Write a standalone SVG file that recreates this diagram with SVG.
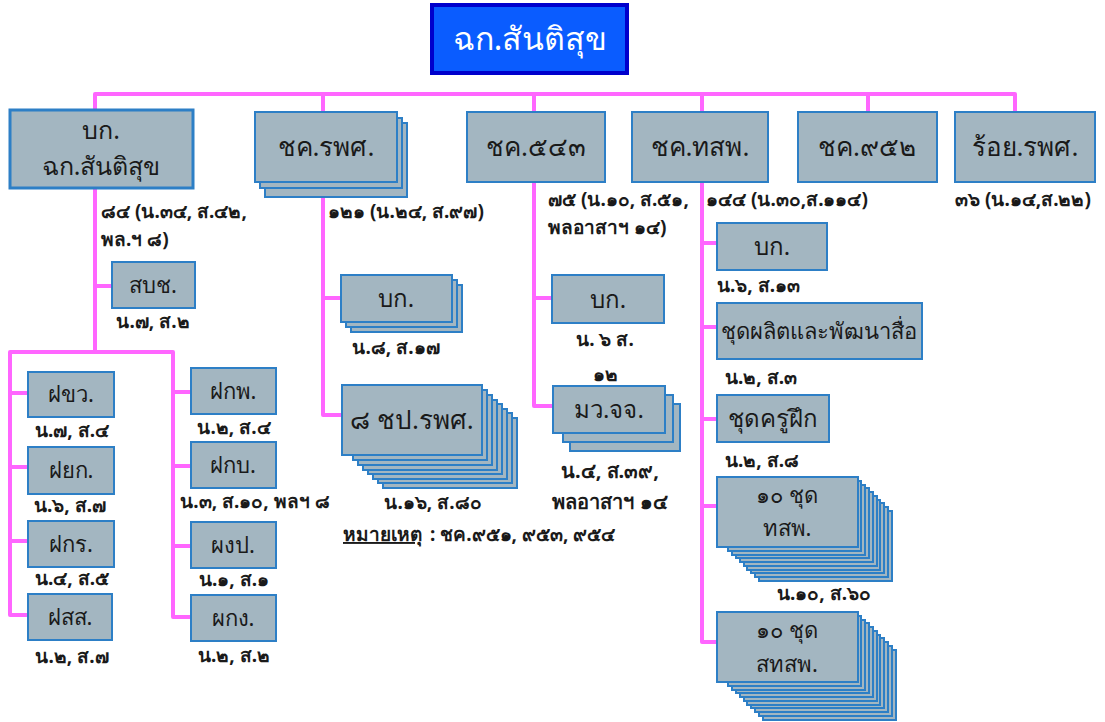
<svg xmlns="http://www.w3.org/2000/svg" width="1105" height="722" viewBox="0 0 1105 722">
<style>
.box{fill:#a3b6c1;stroke:#2d7fc6;stroke-width:2}
.conn{stroke:#ff66ff;stroke-width:4;fill:none;stroke-linejoin:round;stroke-linecap:square}
text{font-family:"Noto Sans","DejaVu Sans",sans-serif;fill:#1a1a1a}
.t1{font-size:26px;text-anchor:middle}
.t2{font-size:22px;text-anchor:middle}
.n{font-size:19px;font-weight:bold}
.nc{font-size:19px;font-weight:bold;text-anchor:middle}
</style>
<rect width="1105" height="722" fill="#ffffff"/>
<g id="connectors">
<path class="conn" d="M95 352 V94 H1015 V112"/>
<path class="conn" d="M323 94 V415 H341 M323 298 H341"/>
<path class="conn" d="M534 94 V406 H553 M534 298 H552"/>
<path class="conn" d="M702 94 V642 H717 M702 243 H717 M702 327 H717 M702 419 H717 M702 506 H717"/>
<path class="conn" d="M868 94 V112"/>
<path class="conn" d="M95 286 H112"/>
<path class="conn" d="M28 615 H10 V352 H173 V617 H191 M10 393 H28 M10 467 H28 M10 541 H28 M173 392 H191 M173 466 H191 M173 546 H191"/>
</g>
<g id="n-top">
<rect x="432" y="5" width="195" height="68" fill="#0a5cff" stroke="#0000cc" stroke-width="4"/>
<text x="530" y="50" style="font-size:32px;text-anchor:middle;fill:#ffffff">ฉก.สันติสุข</text>
</g>
<g id="n-hq">
<rect class="box" x="10" y="110" width="183" height="78" style="stroke-width:3"/>
<text class="t1" x="101" y="139" style="font-size:25px">บก.</text>
<text class="t1" x="101" y="175" style="font-size:25px">ฉก.สันติสุข</text>
<text class="n" x="101" y="218">๘๔ (น.๓๔, ส.๔๒,</text>
<text class="n" x="101" y="246">พล.ฯ ๘)</text>
</g>
<g id="n-rps">
<rect class="box" x="265" y="123" width="142" height="74"/>
<rect class="box" x="260" y="118" width="142" height="70"/>
<rect class="box" x="255" y="112" width="142" height="70"/>
<text class="t1" x="326" y="156">ชค.รพศ.</text>
<text class="n" x="328" y="218">๑๒๑ (น.๒๔, ส.๙๗)</text>
</g>
<g id="n-543">
<rect class="box" x="467" y="112" width="138" height="70"/>
<text class="t1" x="536" y="156">ชค.๕๔๓</text>
<text class="n" x="548" y="206">๗๕ (น.๑๐, ส.๕๑,</text>
<text class="n" x="548" y="234">พลอาสาฯ ๑๔)</text>
</g>
<g id="n-tsp">
<rect class="box" x="632" y="112" width="136" height="70"/>
<text class="t1" x="700" y="156">ชค.ทสพ.</text>
<text class="n" x="706" y="206">๑๔๔ (น.๓๐,ส.๑๑๔)</text>
</g>
<g id="n-952">
<rect class="box" x="798" y="112" width="139" height="70"/>
<text class="t1" x="867" y="156">ชค.๙๕๒</text>
</g>
<g id="n-roi">
<rect class="box" x="955" y="112" width="140" height="70"/>
<text class="t1" x="1025" y="156">ร้อย.รพศ.</text>
<text class="n" x="955" y="206">๓๖ (น.๑๔,ส.๒๒)</text>
</g>
<g id="n-sbc">
<rect class="box" x="112" y="262" width="83" height="46"/>
<text class="t2" x="153" y="293">สบช.</text>
<text class="nc" x="153" y="328">น.๗, ส.๒</text>
</g>
<g id="n-fkw">
<rect class="box" x="28" y="372" width="86" height="45"/>
<text class="t2" x="71" y="402">ฝขว.</text>
<text class="nc" x="72" y="437">น.๗, ส.๔</text>
</g>
<g id="n-fyk">
<rect class="box" x="28" y="447" width="86" height="47"/>
<text class="t2" x="71" y="478">ฝยก.</text>
<text class="nc" x="70" y="512">น.๖, ส.๗</text>
</g>
<g id="n-fkr">
<rect class="box" x="28" y="521" width="86" height="46"/>
<text class="t2" x="71" y="552">ฝกร.</text>
<text class="nc" x="72" y="585">น.๔, ส.๕</text>
</g>
<g id="n-fss">
<rect class="box" x="28" y="594" width="84" height="46"/>
<text class="t2" x="70" y="625">ฝสส.</text>
<text class="nc" x="72" y="663">น.๒, ส.๗</text>
</g>
<g id="n-fkp">
<rect class="box" x="191" y="368" width="85" height="46"/>
<text class="t2" x="233" y="399">ฝกพ.</text>
<text class="nc" x="234" y="434">น.๒, ส.๔</text>
</g>
<g id="n-fkb">
<rect class="box" x="191" y="442" width="85" height="46"/>
<text class="t2" x="233" y="473">ฝกบ.</text>
<text class="nc" x="255" y="508">น.๓, ส.๑๐, พลฯ ๘</text>
</g>
<g id="n-pgp">
<rect class="box" x="191" y="522" width="85" height="46"/>
<text class="t2" x="233" y="553">ผงป.</text>
<text class="nc" x="234" y="586">น.๑, ส.๑</text>
</g>
<g id="n-pkg">
<rect class="box" x="191" y="595" width="85" height="46"/>
<text class="t2" x="233" y="626">ผกง.</text>
<text class="nc" x="234" y="662">น.๒, ส.๒</text>
</g>
<g id="n-rps-bk">
<rect class="box" x="351" y="285" width="111" height="47"/>
<rect class="box" x="346" y="280" width="111" height="47"/>
<rect class="box" x="341" y="275" width="111" height="47"/>
<text class="t2" x="396" y="307" style="font-size:24px">บก.</text>
<text class="nc" x="396" y="354">น.๘, ส.๑๗</text>
</g>
<g id="n-cp">
<rect class="box" x="383" y="418" width="134" height="70"/>
<rect class="box" x="378" y="413" width="134" height="70"/>
<rect class="box" x="373" y="409" width="134" height="70"/>
<rect class="box" x="368" y="404" width="134" height="70"/>
<rect class="box" x="363" y="400" width="134" height="70"/>
<rect class="box" x="358" y="395" width="134" height="70"/>
<rect class="box" x="353" y="390" width="134" height="70"/>
<rect class="box" x="342" y="385" width="140" height="70"/>
<text class="t1" x="412" y="429">๘ ชป.รพศ.</text>
<text class="nc" x="433" y="509">น.๑๖, ส.๘๐</text>
</g>
<g id="n-543-bk">
<rect class="box" x="552" y="275" width="112" height="48"/>
<text class="t2" x="608" y="308" style="font-size:24px">บก.</text>
<text class="nc" x="605" y="346">น. ๖ ส.</text>
<text class="nc" x="605" y="381">๑๒</text>
</g>
<g id="n-mwjj">
<rect class="box" x="570" y="404" width="110" height="47"/>
<rect class="box" x="563" y="395" width="110" height="47"/>
<rect class="box" x="553" y="386" width="112" height="47"/>
<text class="t2" x="609" y="418" style="font-size:24px">มว.จจ.</text>
<text class="nc" x="610" y="478" style="font-size:20px">น.๔, ส.๓๙,</text>
<text class="nc" x="610" y="509" style="font-size:20px">พลอาสาฯ ๑๔</text>
</g>
<g id="n-tsp-bk">
<rect class="box" x="717" y="223" width="110" height="47"/>
<text class="t2" x="772" y="255" style="font-size:24px">บก.</text>
<text class="n" x="717" y="292">น.๖, ส.๑๓</text>
</g>
<g id="n-media">
<rect class="box" x="717" y="303" width="205" height="56"/>
<text class="t2" x="819" y="339">ชุดผลิตและพัฒนาสื่อ</text>
<text class="n" x="725" y="384">น.๒, ส.๓</text>
</g>
<g id="n-trainer">
<rect class="box" x="717" y="395" width="112" height="47"/>
<text class="t2" x="773" y="427" style="font-size:24px">ชุดครูฝึก</text>
<text class="n" x="725" y="467">น.๒, ส.๘</text>
</g>
<g id="n-10tsp">
<rect class="box" x="759" y="511" width="133" height="70"/>
<rect class="box" x="755" y="507" width="133" height="70"/>
<rect class="box" x="751" y="503" width="133" height="70"/>
<rect class="box" x="747" y="500" width="133" height="70"/>
<rect class="box" x="744" y="496" width="133" height="70"/>
<rect class="box" x="740" y="492" width="133" height="70"/>
<rect class="box" x="736" y="488" width="133" height="70"/>
<rect class="box" x="732" y="485" width="133" height="70"/>
<rect class="box" x="728" y="481" width="133" height="70"/>
<rect class="box" x="717" y="477" width="141" height="70"/>
<text class="t2" x="787" y="503">๑๐ ชุด</text>
<text class="t2" x="787" y="536">ทสพ.</text>
<text class="nc" x="824" y="600">น.๑๐, ส.๖๐</text>
</g>
<g id="n-10stsp">
<rect class="box" x="763" y="650" width="133" height="70"/>
<rect class="box" x="759" y="646" width="133" height="70"/>
<rect class="box" x="755" y="642" width="133" height="70"/>
<rect class="box" x="751" y="638" width="133" height="70"/>
<rect class="box" x="747" y="635" width="133" height="70"/>
<rect class="box" x="744" y="631" width="133" height="70"/>
<rect class="box" x="740" y="627" width="133" height="70"/>
<rect class="box" x="736" y="623" width="133" height="70"/>
<rect class="box" x="732" y="620" width="133" height="70"/>
<rect class="box" x="728" y="616" width="133" height="70"/>
<rect class="box" x="717" y="612" width="141" height="70"/>
<text class="t2" x="787" y="638">๑๐ ชุด</text>
<text class="t2" x="787" y="672">สทสพ.</text>
</g>
<g id="note">
<text class="n" x="343" y="541"><tspan text-decoration="underline">หมายเหตุ</tspan><tspan dx="8">: ชค.๙๕๑, ๙๕๓, ๙๕๔</tspan></text>
</g>
</svg>
